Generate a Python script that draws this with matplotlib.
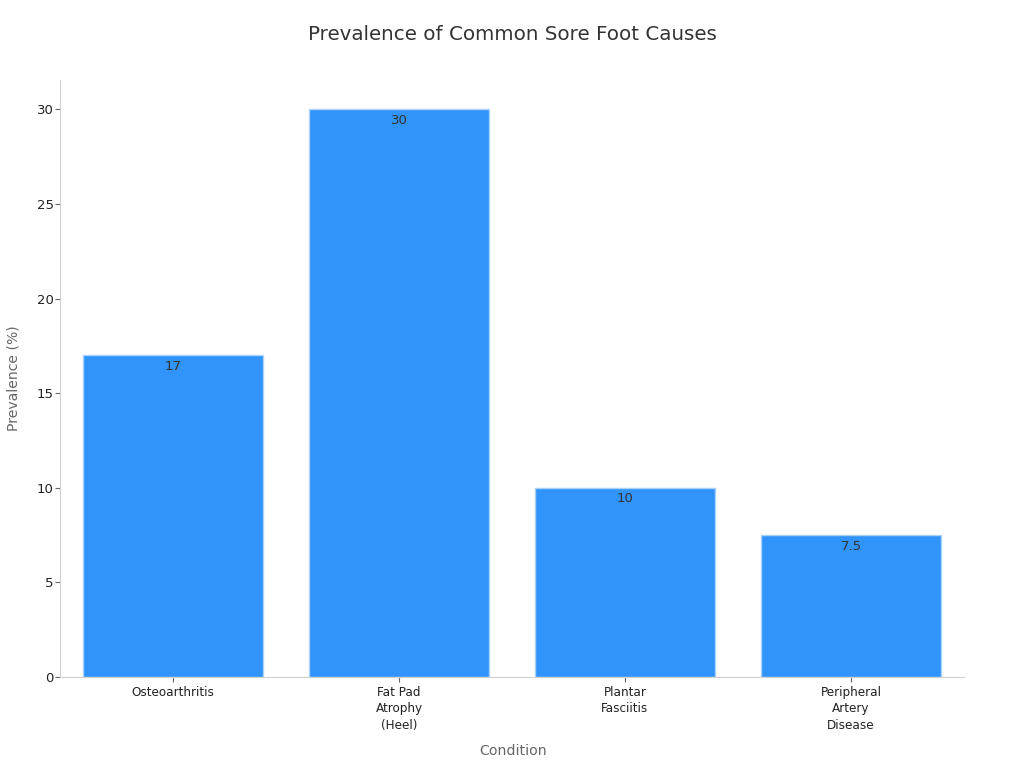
import matplotlib
matplotlib.use("Agg")
import matplotlib.pyplot as plt

categories = ["Osteoarthritis", "Fat Pad\nAtrophy\n(Heel)", "Plantar\nFasciitis", "Peripheral\nArtery\nDisease"]
values = [17, 30, 10, 7.5]
value_labels = ["17", "30", "10", "7.5"]
y_ticks = [0, 5, 10, 15, 20, 25, 30]

fig = plt.figure(figsize=(10.24, 7.68), dpi=100)
ax = fig.add_axes([60 / 1024, 1 - 677 / 768, (964 - 60) / 1024, (677 - 80) / 768])

bars = ax.bar(range(len(values)), values, width=0.8, color="#3094fb", edgecolor="#a9d2fb", linewidth=1)
ax.set_xlim(-0.5, 3.5)
ax.set_ylim(0, 31.55)

for i, v in enumerate(values):
    ax.annotate(value_labels[i], (i, v), xytext=(0, -8), textcoords="offset points",
                ha="center", va="center", fontsize=9.5, color="#333333")

ax.set_xticks(range(len(values)))
ax.set_xticklabels(categories, fontsize=8.65, color="#222222", linespacing=1.33)
ax.set_yticks(y_ticks)
ax.tick_params(axis="y", labelsize=9.5, labelcolor="#222222", color="#666666", length=3.6, pad=1)
ax.tick_params(axis="x", color="#666666", length=3.5, pad=3)

for side in ["top", "right"]:
    ax.spines[side].set_visible(False)
for side in ["left", "bottom"]:
    ax.spines[side].set_color("#d0d0d0")

ax.set_xlabel("Condition", fontsize=10.2, color="#666666")
ax.xaxis.set_label_coords(0.501, -0.1118)
ax.set_ylabel("Prevalence (%)", fontsize=10.1, color="#666666")
ax.yaxis.set_label_coords(-0.044, 0.5)

fig.text(512 / 1024, 1 - 34 / 768, "Prevalence of Common Sore Foot Causes", ha="center", va="center",
         fontsize=14.3, color="#333333")

fig.savefig("out.png", dpi=100)
